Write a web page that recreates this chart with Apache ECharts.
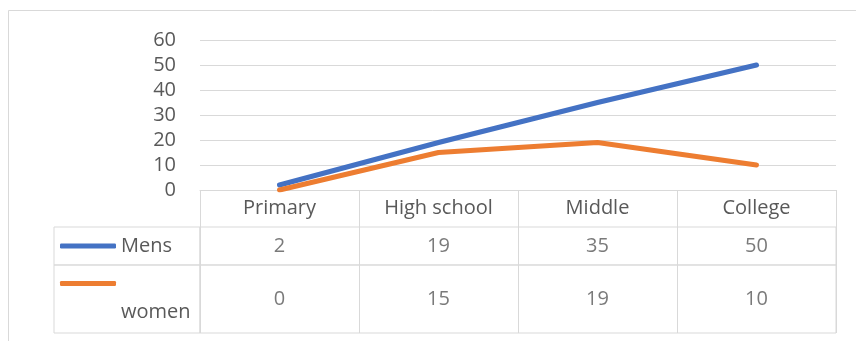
<!DOCTYPE html>
<html>
<head>
<meta charset="utf-8">
<script src="https://cdn.jsdelivr.net/npm/echarts@6/dist/echarts.min.js"></script>
<style>
html, body { margin: 0; padding: 0; background: #fff; }
#chart { width: 856px; height: 341px; }
</style>
</head>
<body>
<div id="chart"></div>
<script>
// 数据
var categories = ["Primary", "High school", "Middle", "College"];
var mens = [2, 19, 35, 50];
var women = [0, 15, 19, 10];
var series_names = ["Mens", "women"];

var text_color = "#595959";
var line_color = "#d9d9d9";
var font = "'Open Sans', 'Liberation Sans', sans-serif";

var chart = echarts.init(document.getElementById("chart"));

// 表格一行的数值标签
function table_row(values, row_name, index){
	return {
		type: "scatter",
		xAxisIndex: index,
		yAxisIndex: index,
		symbolSize: 0,
		silent: true,
		data: values.map(function(v, i){ return [categories[i], row_name, v]; }),
		label: {
			show: true,
			position: "inside",
			color: text_color,
			fontFamily: font,
			fontSize: 20,
			formatter: function(p){ return p.value[2]; }
		}
	};
}
function row_x_axis(grid){
	return {
		type: "category", gridIndex: grid, data: categories, boundaryGap: true,
		axisLine: { show: false }, axisTick: { show: false }, axisLabel: { show: false },
		splitLine: { show: true, interval: 0, lineStyle: { color: line_color, width: 1 } }
	};
}
function row_y_axis(grid, name){
	return { type: "category", gridIndex: grid, data: [name], show: false };
}
function hidden_axis(type, grid){
	return { type: type, gridIndex: grid, show: false };
}

var option = {
	animation: false,
	backgroundColor: "#fff",
	textStyle: { fontFamily: font },
	graphic: [{
		type: "rect",
		shape: { x: 8.5, y: 10.5, width: 900, height: 400 },
		style: { fill: null, stroke: line_color, lineWidth: 1 },
		silent: true
	}],
	legend: [{
		data: [series_names[0]],
		left: 60, top: 234, padding: 0,
		icon: "roundRect", itemWidth: 56, itemHeight: 5,
		selectedMode: false,
		textStyle: { color: text_color, fontSize: 20, lineHeight: 24, fontFamily: font }
	}, {
		data: [series_names[1]],
		left: 60, top: 240, padding: 0,
		icon: "roundRect", itemWidth: 56, itemHeight: 5,
		selectedMode: false,
		formatter: function(name){ return "\n\n" + name; },
		textStyle: { color: text_color, fontSize: 20, lineHeight: 29, fontFamily: font }
	}],
	grid: [
		{ left: 200, top: 40, width: 636, height: 150 },
		{ left: 200, top: 227, width: 636, height: 38, show: true, borderColor: line_color, borderWidth: 1 },
		{ left: 200, top: 265, width: 636, height: 68, show: true, borderColor: line_color, borderWidth: 1 },
		{ left: 54, top: 227, width: 146, height: 38, show: true, borderColor: line_color, borderWidth: 1 },
		{ left: 54, top: 265, width: 146, height: 68, show: true, borderColor: line_color, borderWidth: 1 }
	],
	xAxis: [{
		type: "category", gridIndex: 0, data: categories, boundaryGap: true,
		axisLine: { show: true, lineStyle: { color: line_color, width: 1 } },
		axisTick: { show: true, interval: 0, length: 37, lineStyle: { color: line_color, width: 1 } },
		axisLabel: { color: text_color, fontSize: 20, margin: 8, fontFamily: font, interval: 0 }
	}, row_x_axis(1), row_x_axis(2), hidden_axis("value", 3), hidden_axis("value", 4)],
	yAxis: [{
		type: "value", gridIndex: 0, min: 0, max: 60, interval: 10,
		axisLine: { show: false }, axisTick: { show: false },
		axisLabel: { color: text_color, fontSize: 20, margin: 24, fontFamily: font },
		splitLine: { lineStyle: { color: line_color, width: 1 } }
	}, row_y_axis(1, series_names[0]), row_y_axis(2, series_names[1]), hidden_axis("value", 3), hidden_axis("value", 4)],
	series: [{
		name: series_names[0], type: "line", data: mens, symbol: "none",
		color: "#4472C4",
		lineStyle: { width: 5, cap: "round", join: "round" }
	}, {
		name: series_names[1], type: "line", data: women, symbol: "none",
		color: "#ED7D31",
		lineStyle: { width: 5, cap: "round", join: "round" }
	}, table_row(mens, series_names[0], 1), table_row(women, series_names[1], 2)]
};
chart.setOption(option);
</script>
</body>
</html>
